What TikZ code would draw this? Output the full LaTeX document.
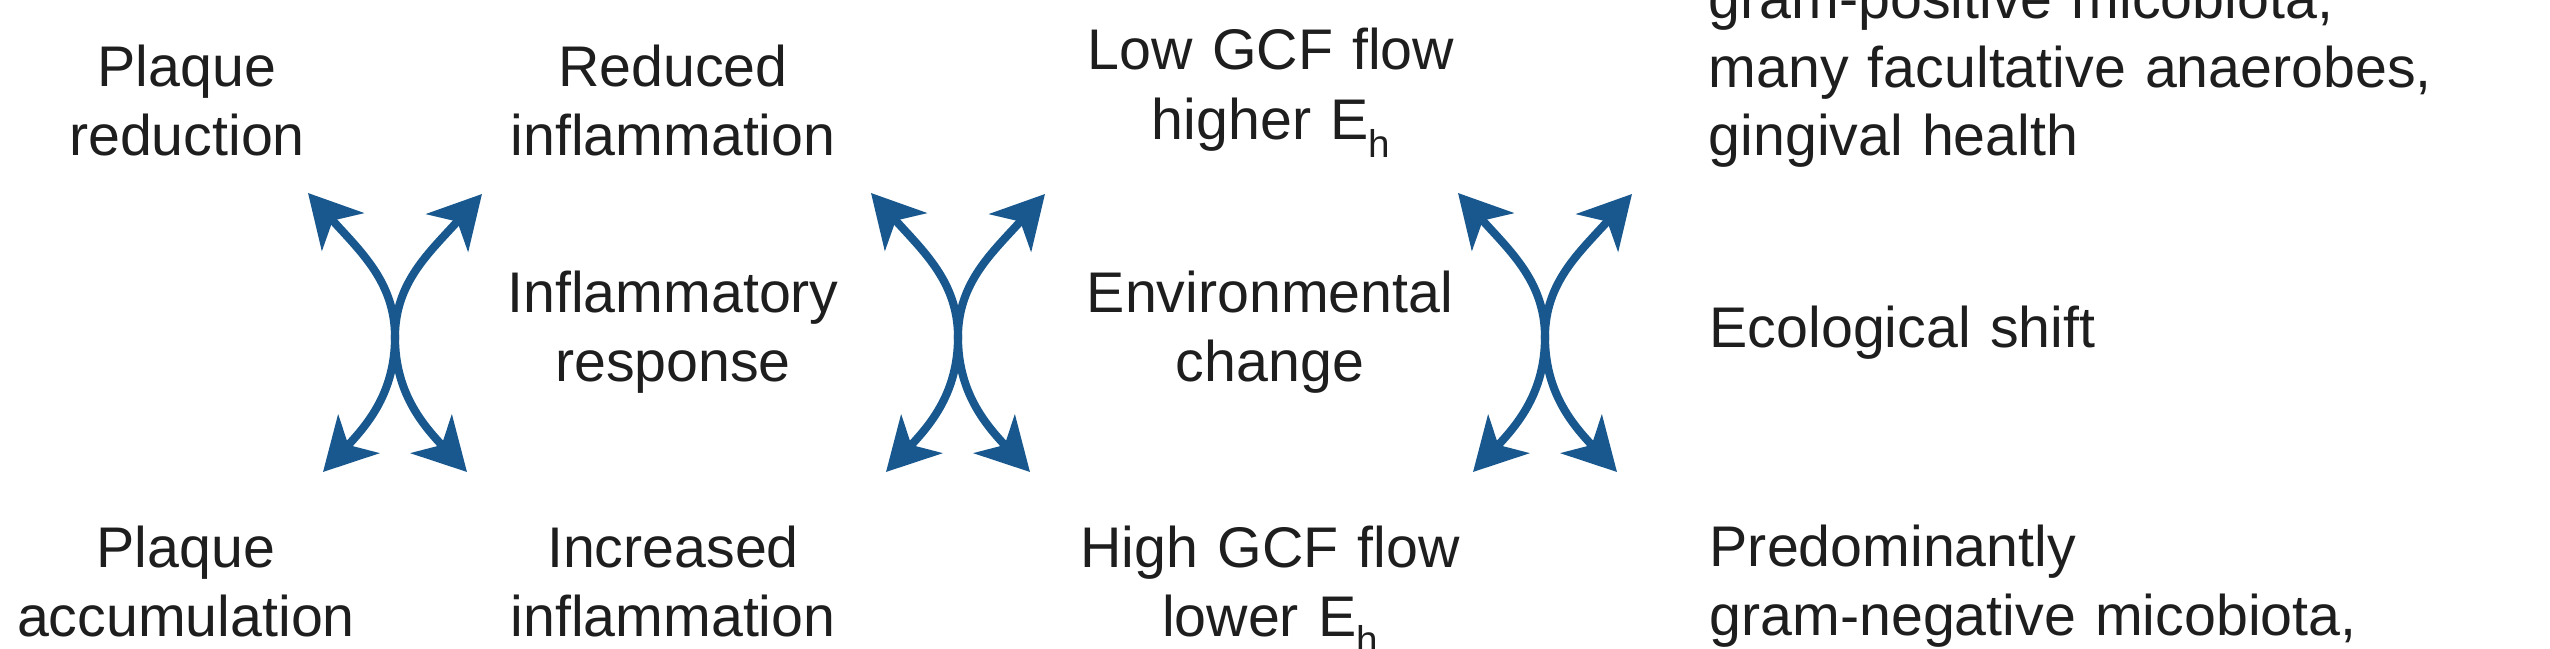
\documentclass[tikz,border=0pt]{standalone}
\usepackage{fontspec}
\setmainfont{Liberation Sans}
\usetikzlibrary{arrows.meta}
\definecolor{arrblue}{RGB}{24,88,142}
\definecolor{txtcol}{RGB}{30,30,30}
\newcommand{\Eh}{E\raisebox{-0.3em}{\fontsize{11}{11}\selectfont h}}
\begin{document}
\begin{tikzpicture}[x=0.01cm,y=-0.01cm,
  lbl/.style={font=\fontsize{16.3}{19.4}\selectfont, text=txtcol, inner sep=0pt,
              align=center, text width=7cm, anchor=base},
  lblleft/.style={lbl, align=left, text width=9cm, anchor=base west},
  tipshape/.tip={Stealth[length=0.52cm,width=0.56cm,inset=0.15cm]},
  dblarrow/.style={draw=arrblue, line width=2.3pt, tipshape-tipshape}
]
\useasboundingbox (0,0) rectangle (2550,649);
\clip (0,0) rectangle (2550,649);

% left column
\node[lbl] (pr) at (187,87) {Plaque\\reduction};
\node[lbl] (pa) at (186,568) {Plaque\\accumulation};
% second column
\node[lbl] (ri) at (673,87) {Reduced\\inflammation};
\node[lbl] (ir) at (673,313) {Inflammatory\\response};
\node[lbl] (ii) at (673,568) {Increased\\inflammation};
% third column
\node[lbl, font=\fontsize{16.3}{19.9}\selectfont] (lg) at (1271,70) {Low GCF flow\\higher \Eh};
\node[lbl] (ec) at (1270,313) {Environmental\\change};
\node[lbl] (hg) at (1270,568) {High GCF flow\\lower \Eh};
% right column
\node[lblleft] (gp) at (1708,19) {gram-positive micobiota,\\many facultative anaerobes,\\gingival health};
\node[lblleft] (es) at (1709,348) {Ecological shift};
\node[lblleft] (pn) at (1709,567) {Predominantly\\gram-negative micobiota,};

% double-headed crossing arrows
\foreach \n/\cx in {a/395,b/958,c/1545}{
  \coordinate (x\n-tl) at (\cx-87,193);
  \coordinate (x\n-tr) at (\cx+87,194);
  \coordinate (x\n-bl) at (\cx-72,472);
  \coordinate (x\n-br) at (\cx+72,472);
  \coordinate (x\n-m)  at (\cx,337);
  \draw[dblarrow] (x\n-tl) .. controls +(52,58) and +(0,-55) .. (x\n-m)
                           .. controls +(0,55) and +(45,-48) .. (x\n-bl);
  \draw[dblarrow] (x\n-tr) .. controls +(-52,58) and +(0,-55) .. (x\n-m)
                           .. controls +(0,55) and +(-45,-48) .. (x\n-br);
}
\end{tikzpicture}
\end{document}
